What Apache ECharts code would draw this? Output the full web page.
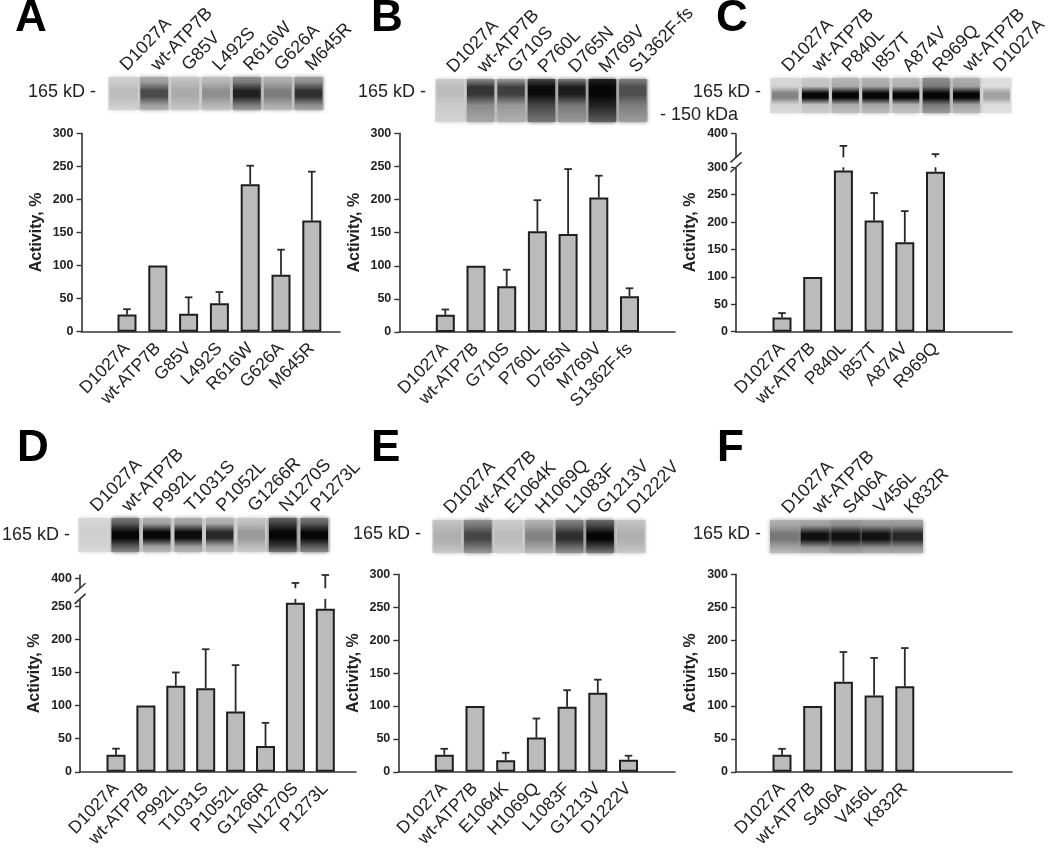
<!DOCTYPE html>
<html><head><meta charset="utf-8">
<style>html,body{margin:0;background:#fff}#chart{width:1050px;height:850px;filter:blur(0.4px)}</style>
<script src="https://cdn.jsdelivr.net/npm/echarts@6/dist/echarts.min.js"></script>
</head><body><div id="chart"></div>
<script>
const categoriesA = ['D1027A','wt-ATP7B','G85V','L492S','R616W','G626A','M645R'];
const valuesA = [26,100,27,43,223,86,168];
const errorsA = [34,100,52,60,251,124,242];
const laneBaseA = [.14,.35,.2,.24,.5,.3,.42];
const laneBandA = [.2,.7,.28,.4,.88,.48,.82];

const categoriesB = ['D1027A','wt-ATP7B','G710S','P760L','D765N','M769V','S1362F-fs'];
const valuesB = [26,100,69,152,148,203,54];
const errorsB = [34,100,94,199,246,236,66];
const laneBaseB = [.14,.42,.36,.72,.5,.88,.48];
const laneBandB = [.2,.8,.75,.98,.9,1,.68];

const categoriesC = ['D1027A','wt-ATP7B','P840L','I857T','A874V','R969Q'];
const blotNamesC = ['D1027A','wt-ATP7B','P840L','I857T','A874V','R969Q','wt-ATP7B','D1027A'];
const valuesC = [26,100,294,203,163,292];
const errorsC = [34,100,377,253,220,362];
const laneBaseC = [.1,.18,.28,.3,.26,.5,.32,.06];
const laneBandC = [.45,1,1,1,1,1,1,.32];

const categoriesD = ['D1027A','wt-ATP7B','P992L','T1031S','P1052L','G1266R','N1270S','P1273L'];
const valuesD = [26,100,130,126,91,39,255,246];
const errorsD = [35,100,150,185,161,74,393,405];
const laneBaseD = [.1,.62,.32,.34,.28,.2,.75,.62];
const laneBandD = [.12,1,1,.98,.85,.35,1,1];

const categoriesE = ['D1027A','wt-ATP7B','E1064K','H1069Q','L1083F','G1213V','D1222V'];
const valuesE = [26,100,17.5,52,99,120,18.5];
const errorsE = [35,100,29,81,124,140,24.5];
const laneBaseE = [.2,.5,.16,.3,.55,.7,.2];
const laneBandE = [.26,.72,.2,.45,.82,1,.26];

const categoriesF = ['D1027A','wt-ATP7B','S406A','V456L','K832R'];
const valuesF = [26,100,137,116,130];
const errorsF = [35,100,182,173,188];
const laneBaseF = [.3,.34,.42,.38,.38];
const laneBandF = [.5,.95,.95,.95,.85];

const yTicksPlain = [0,50,100,150,200,250,300];
const yTicksC = [0,50,100,150,200,250,300,400];
const yTicksD = [0,50,100,150,200,250,400];

const panels = [
 {cats:categoriesA,vals:valuesA,errs:errorsA,ax:81.5,end:340,c0:127,step:30.8,y0:331.7,h:198.4,max:300,ticks:yTicksPlain,
  blot:{names:categoriesA,base:laneBaseA,band:laneBandA,x:108,w:216,y:77,h:33,pos:.5,gap:3}},
 {cats:categoriesB,vals:valuesB,errs:errorsB,ax:399.3,end:675,c0:445.3,step:30.7,y0:332,h:198.7,max:300,ticks:yTicksPlain,
  blot:{names:categoriesB,base:laneBaseB,band:laneBandB,x:435,w:213,y:79,h:43,pos:.27,gap:3}},
 {cats:categoriesC,vals:valuesC,errs:errorsC,ax:736,end:1012,c0:782,step:30.7,y0:331.7,h:198.4,max:400,ticks:yTicksC,brk:[300,356,18],
  blot:{names:blotNamesC,base:laneBaseC,band:laneBandC,x:770,w:247,y:78,h:35,pos:.5,gap:4,narrow:true}},
 {cats:categoriesD,vals:valuesD,errs:errorsD,ax:80,end:356,c0:116,step:29.9,y0:774,h:199,max:405,ticks:yTicksD,brk:[261,385,16],
  blot:{names:categoriesD,base:laneBaseD,band:laneBandD,x:78,w:252,y:518,h:34,pos:.5,gap:4}},
 {cats:categoriesE,vals:valuesE,errs:errorsE,ax:398.3,end:675,c0:444.3,step:30.7,y0:774,h:199.7,max:300,ticks:yTicksPlain,
  blot:{names:categoriesE,base:laneBaseE,band:laneBandE,x:432,w:214,y:520,h:33,pos:.5,gap:3}},
 {cats:categoriesF,vals:valuesF,errs:errorsF,ax:736,end:1012,c0:782,step:30.7,y0:774,h:199.7,max:300,ticks:yTicksPlain,
  blot:{names:categoriesF,base:laneBaseF,band:laneBandF,x:770,w:153,y:520,h:33,pos:.5,gap:0}}
];

const font = '"Liberation Sans", Arial, sans-serif';
const ink = '#222';
const grey = d => { const g = Math.round(228*(1-d)+6); return `rgb(${g},${g},${g})`; };

const grid=[], xAxis=[], yAxis=[], series=[];
panels.forEach(p=>{
  const gi = grid.length;
  grid.push({left:p.ax,top:p.y0-p.h,width:p.end-p.ax,height:p.h,containLabel:false});
  xAxis.push({gridIndex:gi,type:'value',min:(p.ax-p.c0)/p.step,max:(p.end-p.c0)/p.step,
    splitLine:{show:false},axisTick:{show:false},
    axisLine:{onZero:false,lineStyle:{color:'#333',width:1.6}},
    axisLabel:{customValues:p.cats.map((_,i)=>i),formatter:v=>p.cats[Math.round(v)],rotate:46,margin:14,
      fontFamily:font,fontSize:17.5,color:ink,hideOverlap:false}});
  const y={gridIndex:gi,type:'value',min:0,max:p.max,interval:50,
    name:'Activity, %',nameLocation:'middle',nameGap:37,
    nameTextStyle:{fontFamily:font,fontWeight:'bold',fontSize:16,color:ink},
    splitLine:{show:false},
    axisLine:{show:true,onZero:false,lineStyle:{color:'#333',width:1.6}},
    axisTick:{show:true,length:5,lineStyle:{color:'#333',width:1.4},customValues:p.ticks},
    axisLabel:{customValues:p.ticks,fontFamily:font,fontWeight:'bold',fontSize:12.5,color:ink,margin:8}};
  if(p.brk){
    y.breaks=[{start:p.brk[0],end:p.brk[1],gap:p.brk[2],isExpanded:false}];
    y.breakArea={show:false,expandOnClick:false};
  }
  yAxis.push(y);
  series.push({type:'bar',xAxisIndex:gi,yAxisIndex:gi,barWidth:19,silent:true,z:3,
    data:p.vals.map((v,i)=>[i,v]),
    itemStyle:{color:'#bbbbbb',borderColor:'#1e1e1e',borderWidth:2}});
  series.push({type:'custom',xAxisIndex:gi,yAxisIndex:gi,silent:true,z:2,clip:false,
    data:p.errs.map((e,i)=>[i,p.vals[i],e]),
    renderItem:(params,api)=>{
      const x=api.value(0),v=api.value(1),e=api.value(2);
      if(e<=v) return {type:'group',children:[]};
      const ln=(a,b)=>({type:'line',shape:{x1:api.coord([x,a])[0],y1:api.coord([x,a])[1],x2:api.coord([x,b])[0],y2:api.coord([x,b])[1]},
        style:{stroke:'#2a2a2a',lineWidth:1.8,fill:null}});
      const kids=[];
      if(p.brk && v<p.brk[0] && e>p.brk[1]){ kids.push(ln(v,p.brk[0])); kids.push(ln(p.brk[1],e)); }
      else kids.push(ln(v,e));
      const t=api.coord([x,e]);
      kids.push({type:'line',shape:{x1:t[0]-3.8,y1:t[1],x2:t[0]+3.8,y2:t[1]},style:{stroke:'#2a2a2a',lineWidth:1.8,fill:null}});
      return {type:'group',children:kids};
    }});
  if(p.brk){
    series.push({type:'custom',xAxisIndex:gi,yAxisIndex:gi,silent:true,z:4,clip:false,
      data:[[xAxis[gi].min,p.brk[0],p.brk[1]]],
      renderItem:(params,api)=>{
        const a=api.coord([api.value(0),api.value(1)]),b=api.coord([api.value(0),api.value(2)]);
        const slash=c=>({type:'line',shape:{x1:c[0]-5.5,y1:c[1]+5,x2:c[0]+5.5,y2:c[1]-5},style:{stroke:'#333',lineWidth:1.6,fill:null}});
        return {type:'group',children:[
          {type:'rect',shape:{x:a[0]-2,y:b[1],width:4,height:a[1]-b[1]},style:{fill:'#fff'}},
          slash(a),slash(b)]};
      }});
  }
  // blot strip
  const b=p.blot, bi=grid.length, slot=b.w/b.names.length;
  grid.push({left:b.x,top:b.y,width:b.w,height:b.h,show:true,borderWidth:0,backgroundColor:b.gap?'#dedede':grey(.3)});
  xAxis.push({gridIndex:bi,type:'category',position:'top',data:b.names,
    axisLine:{show:false},axisTick:{show:false},
    axisLabel:{interval:0,rotate:46,margin:9,fontFamily:font,fontSize:18,color:ink}});
  yAxis.push({gridIndex:bi,type:'value',min:0,max:1,show:false});
  const half=b.narrow?.13:.17;
  series.push({type:'bar',xAxisIndex:bi,yAxisIndex:bi,barWidth:slot-b.gap,silent:true,
    data:b.names.map((n,i)=>({value:1,itemStyle:{shadowBlur:4,shadowColor:grey(b.base[i]),color:{type:'linear',x:0,y:0,x2:0,y2:1,colorStops:[
      {offset:0,color:grey(b.base[i]*.8)},
      {offset:Math.max(.01,b.pos-half*2),color:grey(b.base[i])},
      {offset:Math.max(.02,b.pos-half*.5),color:grey(b.band[i])},
      {offset:b.pos+half*.5,color:grey(b.band[i])},
      {offset:b.pos+half*2,color:grey(b.base[i])},
      {offset:1,color:grey(b.base[i]*.7)}]}}}))});
});

const tt=(text,left,top,size,weight)=>({text,left,top,padding:0,textStyle:{fontFamily:font,fontSize:size,fontWeight:weight,color:weight==='bold'?'#000':ink}});
const title=[
 tt('A',15,-3,44,'bold'),tt('B',371,-3,44,'bold'),tt('C',716,-3,44,'bold'),
 tt('D',17,427,44,'bold'),tt('E',371,427,44,'bold'),tt('F',717,427,44,'bold'),
 tt('165 kD -',28,83,18,'normal'),tt('165 kD -',358,83,18,'normal'),tt('- 150 kDa',660,106,18,'normal'),
 tt('165 kD -',693,83,18,'normal'),tt('165 kD -',2,526,18,'normal'),tt('165 kD -',353,525,18,'normal'),tt('165 kD -',693,525,18,'normal')
];

const chart=echarts.init(document.getElementById('chart'),null,{renderer:'canvas'});
chart.setOption({animation:false,backgroundColor:'#fff',title,grid,xAxis,yAxis,series});
</script></body></html>
